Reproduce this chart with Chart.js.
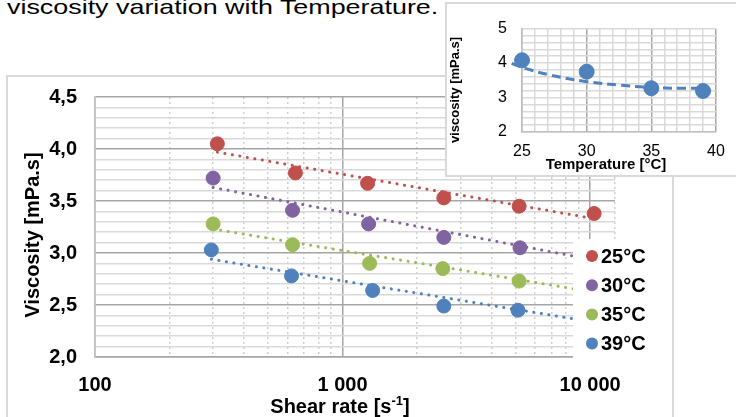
<!DOCTYPE html>
<html>
<head>
<meta charset="utf-8">
<script src="https://cdn.jsdelivr.net/npm/chart.js@4.4.0/dist/chart.umd.min.js"></script>
<style>
  body { margin: 0; width: 736px; height: 417px; overflow: hidden; background: #fff; position: relative; font-family: "Liberation Sans", Arial, sans-serif; }
  #title { position: absolute; left: 7px; top: -4px; font-size: 21px; line-height: 21px; white-space: nowrap; transform-origin: left top; transform: scaleX(1.28); color: #000; }
  #frame { position: absolute; left: 6px; top: 75px; width: 664px; height: 400px; border: 2px solid #d9d9d9; }
  #mainChart { position: absolute; left: 0; top: 0; }
  #inset { position: absolute; left: 445px; top: 2px; width: 300px; height: 171px; border: 2px solid #d9d9d9; background: #fff; }
  #insetChart { position: absolute; left: 0; top: 0; }
</style>
</head>
<body>
<div id="title">viscosity variation with Temperature.</div>
<div id="frame"></div>
<canvas id="mainChart" width="736" height="417"></canvas>
<div id="inset"><canvas id="insetChart" width="289" height="170"></canvas></div>
<script>
// main chart: viscosity vs shear rate
const temps = ['25°C', '30°C', '35°C', '39°C'];
const colors = ['#C0504D', '#8064A2', '#9BBB59', '#4F81BD'];

const shear25 = [312, 645, 1262, 2564, 5166, 10380];
const visc25 = [4.05, 3.77, 3.67, 3.53, 3.45, 3.38];
const shear30 = [300, 628, 1274, 2564, 5207];
const visc30 = [3.72, 3.41, 3.28, 3.15, 3.05];
const shear35 = [300, 628, 1286, 2540, 5166];
const visc35 = [3.28, 3.08, 2.90, 2.85, 2.73];
const shear39 = [295, 622, 1323, 2564, 5110];
const visc39 = [3.03, 2.78, 2.64, 2.49, 2.45];

// log trend lines, start and end
const trendShear = [[312, 10380], [300, 10000], [300, 10000], [295, 10000]];
const trendVisc = [[3.97, 3.33], [3.63, 2.94], [3.23, 2.63], [2.94, 2.34]];

const rateMajor = [100, 1000, 10000];
const rateLabels = ['100', '1 000', '10 000'];
const rateMinor = [200, 300, 400, 500, 600, 700, 800, 900, 2000, 3000, 4000, 5000, 6000, 7000, 8000, 9000];
const rateMax = 12600;

// inset: viscosity vs temperature
const insetTemp = [25, 30, 35, 39];
const insetVisc = [4.08, 3.75, 3.27, 3.19];
const insetTrendTemp = [24.2, 25.4, 27.2, 30, 32.6, 35, 37.2, 39];
const insetTrendVisc = [3.99, 3.83, 3.65, 3.46, 3.36, 3.29, 3.27, 3.27];

Chart.defaults.font.family = '"Liberation Sans", Arial, sans-serif';
Chart.defaults.color = '#000';

const FONT = '"Liberation Sans", Arial, sans-serif';

function pts(xs, ys) {
    return xs.map((x, i) => ({ x: x, y: ys[i] }));
}

function isHalf(v) {
    return Math.round(v * 10) % 5 === 0;
}

const series = [[shear25, visc25], [shear30, visc30], [shear35, visc35], [shear39, visc39]];

const datasets = [];
series.forEach((s, i) => {
    datasets.push({
        label: temps[i],
        data: pts(s[0], s[1]),
        backgroundColor: colors[i],
        borderColor: colors[i],
        pointRadius: 7,
        pointHoverRadius: 7,
        order: 0
    });
});
series.forEach((s, i) => {
    datasets.push({
        label: 'trend ' + temps[i],
        data: pts(trendShear[i], trendVisc[i]),
        showLine: true,
        borderColor: colors[i],
        borderWidth: 3,
        borderDash: [0.1, 7.5],
        borderCapStyle: 'round',
        pointRadius: 0,
        fill: false,
        order: 1
    });
});

const mainText = {
    id: 'mainText',
    afterDatasetsDraw(chart) {
        const ctx = chart.ctx;
        ctx.save();
        // legend sits on a white box over the plot
        ctx.fillStyle = '#fff';
        ctx.fillRect(573, 239, 60, 122);
        ctx.font = 'bold 20px ' + FONT;
        ctx.textBaseline = 'middle';
        ctx.textAlign = 'left';
        chart.data.datasets.filter(d => !d.showLine).forEach((d, i) => {
            const y = 256 + i * 29.2;
            ctx.fillStyle = d.backgroundColor;
            ctx.beginPath();
            ctx.arc(592, y, 6, 0, Math.PI * 2);
            ctx.fill();
            ctx.fillStyle = '#000';
            ctx.fillText(d.label, 601, y + 1);
        });
        ctx.restore();
    },
    afterDraw(chart) {
        const ctx = chart.ctx;
        ctx.save();
        ctx.fillStyle = '#000';
        ctx.font = 'bold 20px ' + FONT;
        ctx.textAlign = 'center';
        ctx.textBaseline = 'middle';
        ctx.translate(33, 235);
        ctx.rotate(-Math.PI / 2);
        ctx.fillText('Viscosity [mPa.s]', 0, 0);
        ctx.restore();

        // x title with superscript
        ctx.save();
        ctx.fillStyle = '#000';
        ctx.textAlign = 'left';
        ctx.textBaseline = 'alphabetic';
        const big = 'bold 20px ' + FONT;
        const small = 'bold 13px ' + FONT;
        ctx.font = big;
        const w1 = ctx.measureText('Shear rate [s').width;
        const w3 = ctx.measureText(']').width;
        ctx.font = small;
        const w2 = ctx.measureText('-1').width;
        let x = 340 - (w1 + w2 + w3) / 2;
        ctx.font = big;
        ctx.fillText('Shear rate [s', x, 413);
        x += w1;
        ctx.font = small;
        ctx.fillText('-1', x, 405);
        x += w2;
        ctx.font = big;
        ctx.fillText(']', x, 413);
        ctx.restore();
    }
};

const mainChart = new Chart(document.getElementById('mainChart'), {
    type: 'scatter',
    data: { datasets: datasets },
    options: {
        responsive: false,
        animation: false,
        layout: { padding: { top: 97, right: 121, left: 0, bottom: 0 } },
        plugins: {
            legend: { display: false },
            tooltip: { enabled: false }
        },
        scales: {
            x: {
                type: 'logarithmic',
                min: 100,
                max: rateMax,
                afterBuildTicks: s => { s.ticks = rateMajor.map(v => ({ value: v })); },
                afterFit: s => { s.height = 60; },
                border: { color: '#a6a6a6', width: 1.5 },
                grid: { drawTicks: false, color: '#a6a6a6', lineWidth: 1.5 },
                ticks: {
                    autoSkip: false,
                    maxRotation: 0,
                    padding: 16,
                    font: { size: 20, weight: 'bold' },
                    callback: v => rateLabels[rateMajor.indexOf(v)]
                }
            },
            xMinor: {
                type: 'logarithmic',
                position: 'bottom',
                min: 100,
                max: rateMax,
                afterBuildTicks: s => { s.ticks = rateMinor.concat([rateMax]).map(v => ({ value: v })); },
                afterFit: s => { s.height = 0; },
                border: { display: false, dash: [2, 3] },
                grid: { drawTicks: false, color: '#cfcfcf', lineWidth: 1.5 },
                ticks: { display: false }
            },
            y: {
                min: 2,
                max: 4.5,
                afterFit: s => { s.width = 95; },
                border: { color: '#bfbfbf', width: 1.5 },
                grid: {
                    drawTicks: false,
                    lineWidth: 1.5,
                    color: c => isHalf(c.tick.value) ? '#a6a6a6' : '#d9d9d9'
                },
                ticks: {
                    stepSize: 0.1,
                    autoSkip: false,
                    padding: 18,
                    font: { size: 20, weight: 'bold' },
                    callback: v => isHalf(v) ? v.toFixed(1).replace('.', ',') : ''
                }
            }
        }
    },
    plugins: [mainText]
});

const insetText = {
    id: 'insetText',
    afterDraw(chart) {
        const ctx = chart.ctx;
        ctx.save();
        ctx.fillStyle = '#000';
        ctx.textAlign = 'center';
        ctx.textBaseline = 'middle';
        ctx.font = 'bold 15px ' + FONT;
        ctx.fillText('Temperature [°C]', 159, 161);
        ctx.font = 'bold 13px ' + FONT;
        ctx.translate(8, 86);
        ctx.rotate(-Math.PI / 2);
        ctx.fillText('viscosity [mPa.s]', 0, 0);
        ctx.restore();
    }
};

const insetChart = new Chart(document.getElementById('insetChart'), {
    type: 'scatter',
    data: {
        datasets: [{
            data: pts(insetTemp, insetVisc),
            backgroundColor: '#4F81BD',
            borderColor: '#4F81BD',
            pointRadius: 7.5,
            pointHoverRadius: 7.5,
            clip: false
        }, {
            data: pts(insetTrendTemp, insetTrendVisc),
            showLine: true,
            borderColor: '#4F81BD',
            borderWidth: 3,
            borderDash: [9, 5],
            tension: 0.4,
            pointRadius: 0,
            fill: false,
            clip: false
        }]
    },
    options: {
        responsive: false,
        animation: false,
        layout: { padding: { top: 9, right: 20, left: 0, bottom: 0 } },
        plugins: {
            legend: { display: false },
            tooltip: { enabled: false }
        },
        scales: {
            x: {
                min: 25,
                max: 40,
                afterFit: s => { s.height = 42; },
                border: { color: '#bfbfbf', width: 1.5 },
                grid: {
                    drawTicks: false,
                    lineWidth: 1.5,
                    color: c => c.tick.value % 5 === 0 ? '#a6a6a6' : '#d9d9d9'
                },
                ticks: {
                    stepSize: 1,
                    autoSkip: false,
                    maxRotation: 0,
                    padding: 10,
                    font: { size: 16 },
                    callback: v => v % 5 === 0 ? String(v) : ''
                }
            },
            y: {
                min: 2,
                max: 5,
                afterFit: s => { s.width = 75; },
                border: { color: '#bfbfbf', width: 1.5 },
                grid: { drawTicks: false, lineWidth: 1.5, color: '#d9d9d9' },
                ticks: {
                    stepSize: 0.2,
                    autoSkip: false,
                    padding: 15,
                    font: { size: 16 },
                    callback: v => Math.abs(v - Math.round(v)) < 1e-6 ? String(Math.round(v)) : ''
                }
            }
        }
    },
    plugins: [insetText]
});
</script>
</body>
</html>
